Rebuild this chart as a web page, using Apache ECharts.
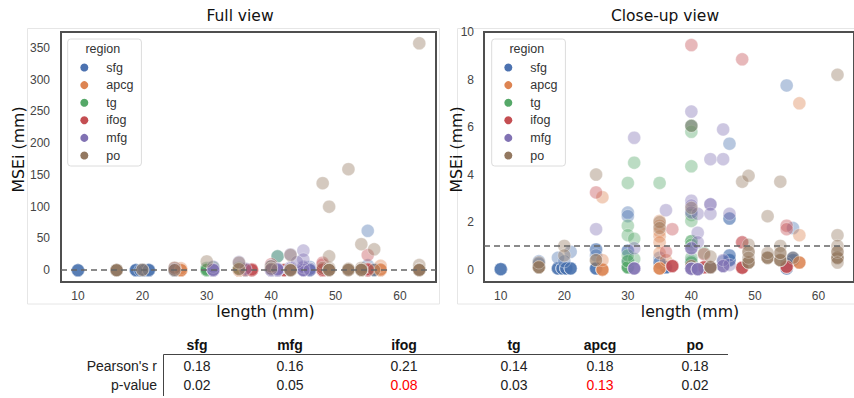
<!DOCTYPE html>
<html><head><meta charset="utf-8">
<script src="https://cdn.jsdelivr.net/npm/echarts@6/dist/echarts.min.js"></script>
<style>html,body{margin:0;padding:0;background:#fff}#c{width:854px;height:398px}</style>
</head><body><div id="c"></div><script>
// ---------------- data ----------------
const regions = ['sfg', 'apcg', 'tg', 'ifog', 'mfg', 'po'];
const colors = ['#4C72B0', '#DD8452', '#55A868', '#C44E52', '#8172B3', '#937860'];
// [length (mm), MSEi (mm), number of overlapping observations]
const sfg = [[10,0.02,5],[19,0.05,5],[19.7,0.05,5],[20.3,0.05,5],[21,0.05,5],[25,0.05,5],[36,0.1,5],[46,0.4,4],[56,0.4,4],[55,0.05,3],
  [30,0.8,2],[30,2.4,1],[30,2.25,1],[30,0.35,1],[16,0.35,1],[16,0.25,1],[19,0.5,1],[21,0.75,1],[20,0.35,1],
  [25,0.85,2],[25,0.6,1],[35,0.5,1],[35,0.3,2],[40,2.45,1],[40,0.35,1],[40,6.05,1],[46,5.3,1],[46,2.15,2],[46,0.6,2],[45,0.35,1],
  [55,7.75,1],[56,1.75,1],[56,0.5,2],[55,0.25,1],[55,62,1],[41,22,1]];
const apcg = [[26,0.0,5],[35,0.05,5],[57,0.3,4],[26,3.05,1],[26,0.4,1],[57,7.0,1],[57,1.45,1],[35,2.05,1],[35,1.85,1],[35,1.6,1],
  [35,1.4,1],[35,1.15,1],[35,0.7,1],[36,0.4,1]];
const tg = [[30,0.1,5],[30,0.35,2],[40,0.3,2],[40,0.5,1],[30,3.65,1],[30,1.85,1],[30,1.45,1],[31,4.5,1],[31,1.3,1],[31,0.45,1],
  [35,3.65,1],[40,5.8,1],[40,6.05,1],[40,4.35,1],[40,2.3,1],[40,2.05,1],[40,1.2,2],[40,1.05,1],[42,0.7,1],[30,0.6,1],[41,22,1]];
const ifog = [[37,0.15,5],[42,0.1,4],[48,0.08,5],[55,0.12,5],[40,9.45,1],[48,8.85,1],[25,3.25,1],[37,1.7,1],[36,0.75,1],[48,1.15,2],
  [55,1.85,1],[55,1.7,1],[42,0.65,1],[40,0.15,1],[55,24,1],[48,12,1]];
const mfg = [[31,0.05,5],[40,0.04,5],[41,0.02,5],[43,0.1,4],[45,0.15,4],[25,1.7,1],[31,5.55,1],[31,0.9,1],[36,2.5,1],[40,6.65,1],
  [40,2.9,1],[40,2.7,1],[40,2.4,1],[40,0.9,3],[41,2.35,1],[41,1.55,1],[41,1.15,1],[43,4.65,1],[43,2.75,2],[43,2.35,1],[45,5.9,1],
  [45,4.65,1],[46,2.35,1],[45,0.4,1],[46,0.2,1],[45,31,1],[43,25,1],[45,17,1],[44,13,1],[35,13,1]];
const po = [[16,0.1,5],[43,0.1,4],[49,0.3,4],[52,0.5,4],[54,0.4,4],[63,0.5,4],[25,4.0,1],[25,0.4,2],[20,1.0,1],[20,0.6,1],
  [35,2.0,1],[35,1.75,1],[40,6.05,1],[40,2.6,1],[43,0.55,1],[48,3.7,1],[49,3.95,1],[49,1.05,1],[49,0.75,2],[49,0.5,1],[52,2.25,1],
  [54,3.7,1],[54,1.0,1],[54,0.7,2],[56,0.5,1],[63,8.2,1],[63,1.45,1],[63,1.0,1],[63,0.75,2],[63,0.3,1],[16,0.3,1],[52,0.7,1],
  [63,357,1],[52,159,1],[48,137,1],[49,100,1],[54,41,1],[56,33,1],[49,22,1],[30,14,1],[43,24,1],[35,12,1]];
const regionData = { sfg, apcg, tg, ifog, mfg, po };
const xTicks = [10, 20, 30, 40, 50, 60];
const yTicksFull = [0, 50, 100, 150, 200, 250, 300, 350];
const yTicksClose = [0, 2, 4, 6, 8, 10];
const threshold = 1;
const tableRegions = ['sfg', 'mfg', 'ifog', 'tg', 'apcg', 'po'];
const pearsonR = [0.18, 0.16, 0.21, 0.14, 0.18, 0.18];
const pValues = [0.02, 0.05, 0.08, 0.03, 0.13, 0.02];

// ---------------- chart ----------------
const FONT_T = 'Liberation Sans, Arial, sans-serif';
const FONT_D = 'DejaVu Sans, Verdana, sans-serif';
const expand = pts => pts.flatMap(([x, y, n]) => Array.from({ length: n }, () => [x, y]));
const closeMax = 10;

const grids = [
  { left: 61, top: 32, width: 375, height: 250 },
  { left: 484, top: 32, width: 374, height: 250 }
].map(g => Object.assign(g, { show: true, borderColor: '#4f4f4f', borderWidth: 2, backgroundColor: 'transparent' }));

const axisLabelBase = { color: '#444', fontSize: 12, fontFamily: FONT_T };
const xAxes = [0, 1].map(i => ({
  gridIndex: i, type: 'value', min: 7.36, max: 65.6,
  axisLine: { show: false }, axisTick: { show: false }, splitLine: { show: false },
  axisLabel: Object.assign({ customValues: xTicks, margin: 8 }, axisLabelBase)
}));
const yAxes = [
  { gridIndex: 0, type: 'value', min: -18.4, max: 374.7,
    axisLine: { show: false }, axisTick: { show: false }, splitLine: { show: false },
    axisLabel: Object.assign({ customValues: yTicksFull, margin: 11 }, axisLabelBase) },
  { gridIndex: 1, type: 'value', min: -0.52, max: 10,
    axisLine: { show: false }, axisTick: { show: false }, splitLine: { show: false },
    axisLabel: Object.assign({ customValues: yTicksClose, margin: 10 }, axisLabelBase) }
];

const series = [];
[0, 1].forEach(g => {
  regions.forEach((r, k) => {
    let pts = expand(regionData[r]);
    if (g === 1) pts = pts.filter(p => p[1] <= closeMax + 0.5);
    const s = {
      type: 'scatter', name: r, xAxisIndex: g, yAxisIndex: g, data: pts,
      symbol: 'circle', symbolSize: 13, clip: true, silent: true,
      itemStyle: { color: colors[k], opacity: 0.4, borderColor: '#fff', borderWidth: 0.8 },
      emphasis: { disabled: true }
    };
    if (k === regions.length - 1) {
      s.markLine = {
        silent: true, symbol: 'none', label: { show: false }, animation: false,
        lineStyle: { type: [6, 4], color: '#666', width: 1.5 },
        emphasis: { disabled: true },
        data: [{ yAxis: threshold }]
      };
    }
    series.push(s);
  });
});

const legendBase = {
  orient: 'vertical', top: 39, data: regions, icon: 'circle',
  itemWidth: 8, itemHeight: 8, itemGap: 4.6,
  padding: [22, 8, 4, 12.6],
  backgroundColor: '#fff', borderColor: '#dcdcdc', borderWidth: 1, borderRadius: 3,
  itemStyle: { opacity: 1, borderWidth: 0 },
  textStyle: { color: '#333', fontSize: 12.5, fontFamily: FONT_T, lineHeight: 13, padding: [0, 0, 0, 13] },
  selectedMode: false
};
const legends = [Object.assign({ left: 67.7 }, legendBase), Object.assign({ left: 491.7 }, legendBase)];

const graphics = [];
// faint outer frames of the two panels
graphics.push({ type: 'rect', shape: { x: 27.5, y: 28.5, width: 412, height: 275.5 }, style: { fill: 'none', stroke: '#e6e6e6', lineWidth: 1 }, z: -1, silent: true });
graphics.push({ type: 'rect', shape: { x: 457.5, y: 28.5, width: 410, height: 275.5 }, style: { fill: 'none', stroke: '#e6e6e6', lineWidth: 1 }, z: -1, silent: true });
const txt = (text, x, y, o) => Object.assign({ type: 'text', x, y, z: 100, silent: true,
  style: Object.assign({ text, align: 'center', verticalAlign: 'middle', fill: '#111', font: '15.5px ' + FONT_D }, o || {}) });
graphics.push(txt('Full view', 240, 16));
graphics.push(txt('Close-up view', 665, 16));
graphics.push(txt('length (mm)', 265.5, 311.5, { font: '15.8px ' + FONT_D }));
graphics.push(txt('length (mm)', 690, 311.5, { font: '15.8px ' + FONT_D }));
graphics.push(Object.assign(txt('MSEi (mm)', 18.5, 149.5, { font: '15.8px ' + FONT_D }), { rotation: Math.PI / 2 }));
graphics.push(Object.assign(txt('MSEi (mm)', 456, 149.5, { font: '15.8px ' + FONT_D }), { rotation: Math.PI / 2 }));
graphics.push(txt('region', 102.8, 48.5, { font: '12.5px ' + FONT_T, fill: '#333' }));
graphics.push(txt('region', 526.8, 48.5, { font: '12.5px ' + FONT_T, fill: '#333' }));

// statistics table
const colX = [197, 290, 404, 514, 600, 695];
const rowY = { head: 345, r: 366, p: 385 };
tableRegions.forEach((r, i) => {
  graphics.push(txt(r, colX[i], rowY.head, { font: 'bold 14px ' + FONT_T, fill: '#111' }));
  graphics.push(txt(pearsonR[i].toFixed(2), colX[i], rowY.r, { font: '14px ' + FONT_T, fill: '#222' }));
  graphics.push(txt(pValues[i].toFixed(2), colX[i], rowY.p, { font: '14px ' + FONT_T, fill: pValues[i] > 0.05 ? '#f00' : '#222' }));
});
graphics.push(txt("Pearson's r", 157, rowY.r, { font: '14px ' + FONT_T, fill: '#222', align: 'right' }));
graphics.push(txt('p-value', 157, rowY.p, { font: '14px ' + FONT_T, fill: '#222', align: 'right' }));
graphics.push({ type: 'line', shape: { x1: 163.5, y1: 354.5, x2: 728, y2: 354.5 }, style: { stroke: '#444', lineWidth: 1 }, silent: true });
graphics.push({ type: 'line', shape: { x1: 163.5, y1: 354.5, x2: 163.5, y2: 396 }, style: { stroke: '#444', lineWidth: 1 }, silent: true });

const chart = echarts.init(document.getElementById('c'), null, { renderer: 'svg' });
chart.setOption({
  animation: false,
  backgroundColor: '#fff',
  grid: grids, xAxis: xAxes, yAxis: yAxes,
  legend: legends,
  series: series,
  graphic: graphics
});
</script></body></html>
